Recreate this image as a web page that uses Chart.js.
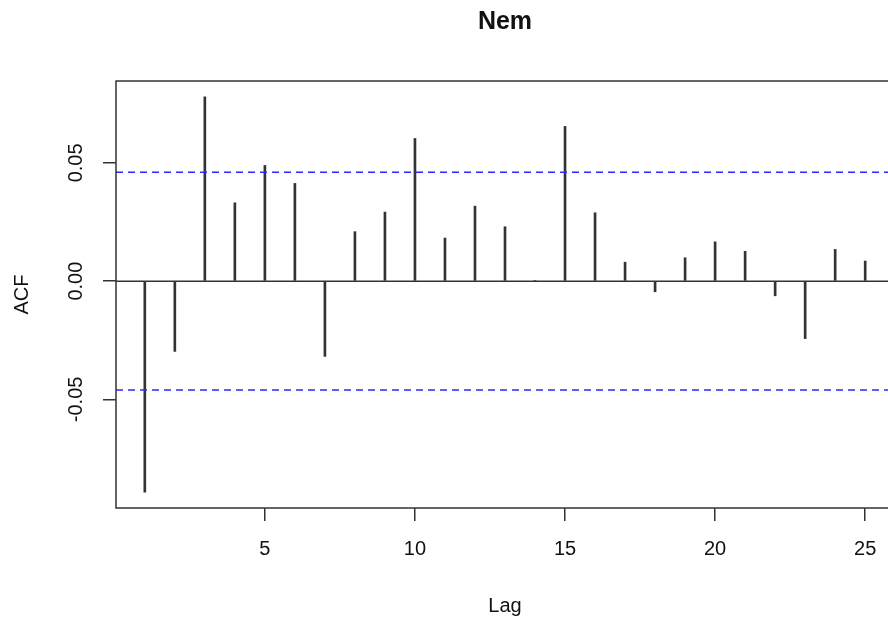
<!DOCTYPE html>
<html>
<head>
<meta charset="utf-8">
<script src="https://cdn.jsdelivr.net/npm/chart.js@4.4.1/dist/chart.umd.min.js"></script>
<style>
  html, body { margin: 0; padding: 0; background: #fff; overflow: hidden; }
  #wrap { width: 900px; height: 625px; }
</style>
</head>
<body>
<div id="wrap"><canvas id="acf" width="900" height="625"></canvas></div>
<script>
// ACF of Nem, lags 1..25
const lags = [1, 2, 3, 4, 5, 6, 7, 8, 9, 10, 11, 12, 13, 14, 15, 16, 17, 18, 19, 20, 21, 22, 23, 24, 25];
const acfValues = [-0.0892, -0.0297, 0.0779, 0.0331, 0.0489, 0.0413, -0.0318, 0.0209, 0.0292, 0.0603,
                   0.0182, 0.0317, 0.0230, 0.0003, 0.0654, 0.0289, 0.0080, -0.0045, 0.0099, 0.0166,
                   0.0126, -0.0062, -0.0243, 0.0134, 0.0085];
const confLimit = 0.046;
const xTicks = [5, 10, 15, 20, 25];
const yTicks = [-0.05, 0, 0.05];
const yTickLabels = ['-0.05', '0.00', '0.05'];
const xRange = [0.04, 25.96];
const yRange = [-0.0959, 0.0846];

const FONT = 'Liberation Sans, Arial, sans-serif';
const INK = '#333';

// box, rotated y labels and titles, R style
const rDecor = {
    id: 'rDecor',
    afterDraw: function (chart) {
        const ctx = chart.ctx;
        const a = chart.chartArea;
        const y = chart.scales.y;
        ctx.save();
        ctx.strokeStyle = INK;
        ctx.lineWidth = 1.5;
        ctx.strokeRect(a.left, a.top, a.right - a.left, a.bottom - a.top);

        ctx.fillStyle = '#111';
        ctx.font = '20px ' + FONT;
        ctx.textAlign = 'center';
        ctx.textBaseline = 'alphabetic';
        yTicks.forEach(function (v, i) {
            ctx.save();
            ctx.translate(82, y.getPixelForValue(v));
            ctx.rotate(-Math.PI / 2);
            ctx.fillText(yTickLabels[i], 0, 0);
            ctx.restore();
        });
        ctx.save();
        ctx.translate(28, (a.top + a.bottom) / 2);
        ctx.rotate(-Math.PI / 2);
        ctx.fillText('ACF', 0, 0);
        ctx.restore();

        const cx = (a.left + a.right) / 2;
        ctx.fillText('Lag', cx, 612);
        ctx.font = 'bold 25px ' + FONT;
        ctx.fillText('Nem', cx, 29);
        ctx.restore();
    }
};

new Chart(document.getElementById('acf'), {
    type: 'bar',
    data: {
        datasets: [
            {
                type: 'line',
                data: [{ x: xRange[0], y: confLimit }, { x: xRange[1], y: confLimit }],
                borderColor: '#2a2aff',
                borderWidth: 1.6,
                borderDash: [7, 5],
                pointRadius: 0,
                order: 0
            },
            {
                type: 'line',
                data: [{ x: xRange[0], y: -confLimit }, { x: xRange[1], y: -confLimit }],
                borderColor: '#2a2aff',
                borderWidth: 1.6,
                borderDash: [7, 5],
                pointRadius: 0,
                order: 0
            },
            {
                type: 'line',
                data: [{ x: xRange[0], y: 0 }, { x: xRange[1], y: 0 }],
                borderColor: INK,
                borderWidth: 1.5,
                pointRadius: 0,
                order: 1
            },
            {
                data: lags.map(function (l, i) { return { x: l, y: acfValues[i] }; }),
                backgroundColor: INK,
                borderWidth: 0,
                barThickness: 2,
                order: 2
            }
        ]
    },
    options: {
        responsive: false,
        animation: false,
        devicePixelRatio: 1,
        layout: { padding: { top: 81, right: 6, left: 0, bottom: 0 } },
        plugins: { legend: { display: false }, tooltip: { enabled: false }, title: { display: false } },
        scales: {
            x: {
                type: 'linear',
                offset: false,
                min: xRange[0],
                max: xRange[1],
                afterBuildTicks: function (s) { s.ticks = xTicks.map(function (v) { return { value: v }; }); },
                afterFit: function (s) { s.height = 117; },
                grid: { offset: false, drawOnChartArea: false, drawTicks: true, tickLength: 13, color: INK, lineWidth: 1.5 },
                border: { display: false },
                ticks: { color: '#111', font: { family: FONT, size: 20 }, padding: 16, maxRotation: 0 }
            },
            y: {
                min: yRange[0],
                max: yRange[1],
                afterBuildTicks: function (s) { s.ticks = yTicks.map(function (v) { return { value: v }; }); },
                afterFit: function (s) { s.width = 116; },
                grid: { drawOnChartArea: false, drawTicks: true, tickLength: 13, color: INK, lineWidth: 1.5 },
                border: { display: false },
                ticks: { display: false }
            }
        }
    },
    plugins: [rDecor]
});
</script>
</body>
</html>
